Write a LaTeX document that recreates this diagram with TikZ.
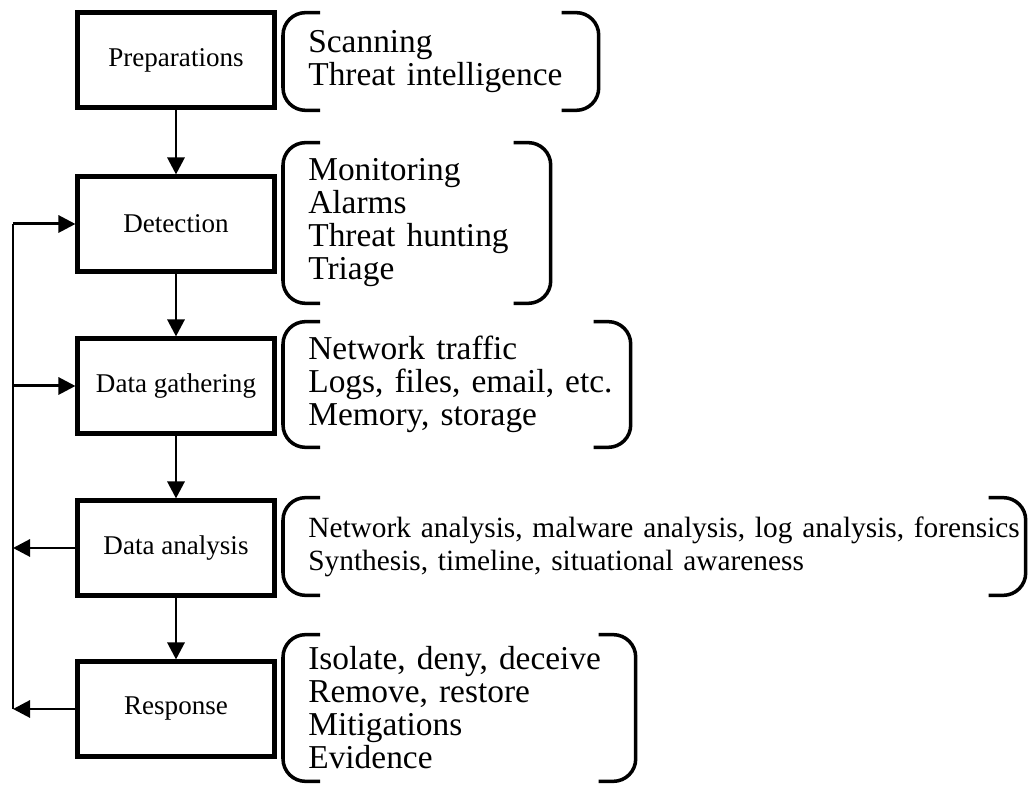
\documentclass[tikz,border=0pt]{standalone}
\usepackage{fontspec}
\setmainfont{Liberation Serif}
\usetikzlibrary{arrows.meta,positioning,calc}
\tikzset{
  >=Triangle,
  stage/.style={draw=black,line width=2.3pt,fill=white,align=center,font=\fontsize{15.4}{18}\selectfont,minimum width=3.94cm,minimum height=1.9cm,inner sep=0pt},
  listbox/.style={anchor=west,align=left,inner sep=0pt,font=\fontsize{19}{18.8}\selectfont},
  flow/.style={-{Triangle[length=0.34cm,width=0.34cm]},line width=1.7pt,draw=black},
  rail/.style={line width=1.7pt,draw=black},
  bracket/.style={line width=2pt,draw=black,rounded corners=0.45cm}
}
\newcommand{\listbracket}[1]{%
  \draw[bracket] ([xshift=0.24cm]#1.north west) -- ([xshift=-0.5cm]#1.north west) -- ([xshift=-0.5cm]#1.south west) -- ([xshift=0.24cm]#1.south west);
  \draw[bracket] ([xshift=-0.74cm]#1.north east) -- (#1.north east) -- (#1.south east) -- ([xshift=-0.74cm]#1.south east);}

\begin{document}
\begin{tikzpicture}[x=1cm,y=1cm]
  \useasboundingbox (0,0) rectangle (20.56,15.74);
  % stages
  \node[stage] (prep) at (3.52,14.54) {Preparations};
  \node[stage] (detect) at (3.52,11.26) {Detection};
  \node[stage] (gather) at (3.52,8.02) {Data gathering};
  \node[stage] (analysis) at (3.52,4.78) {Data analysis};
  \node[stage] (resp) at (3.52,1.56) {Response};
  \draw[flow] (prep)--(detect);
  \draw[flow] (detect)--(gather);
  \draw[flow] (gather)--(analysis);
  \draw[flow] (analysis)--(resp);
  % feedback rail
  \coordinate (loopTop) at (0.26,11.26);
  \coordinate (loopGather) at (0.26,8.02);
  \coordinate (loopAnalysis) at (0.26,4.78);
  \coordinate (loopResp) at (0.26,1.56);
  \draw[rail] (loopResp)--(loopTop);
  \draw[flow] (loopTop)--(detect);
  \draw[flow] (loopGather)--(gather);
  \draw[flow] (analysis)--(loopAnalysis);
  \draw[flow] (resp)--(loopResp);
  % activity lists
  \node[listbox,text width=5.8cm,minimum height=1.94cm] (prepList) at (6.16,14.51) {Scanning\\Threat intelligence};
  \node[listbox,text width=4.84cm,minimum height=3.2cm] (detectList) at (6.16,11.28) {Monitoring\\Alarms\\Threat hunting\\Triage};
  \node[listbox,text width=6.44cm,minimum height=2.5cm] (gatherList) at (6.16,8.05) {Network traffic\\Logs, files, email, etc.\\Memory, storage};
  \node[listbox,text width=14.34cm,minimum height=1.94cm,font=\fontsize{16.7}{18.8}\selectfont] (analysisList) at (6.16,4.81) {Network analysis, malware analysis, log analysis, forensics\\Synthesis, timeline, situational awareness};
  \node[listbox,text width=6.54cm,minimum height=2.92cm] (respList) at (6.16,1.58) {Isolate, deny, deceive\\Remove, restore\\Mitigations\\Evidence};
  \listbracket{prepList}
  \listbracket{detectList}
  \listbracket{gatherList}
  \listbracket{analysisList}
  \listbracket{respList}
\end{tikzpicture}
\end{document}
